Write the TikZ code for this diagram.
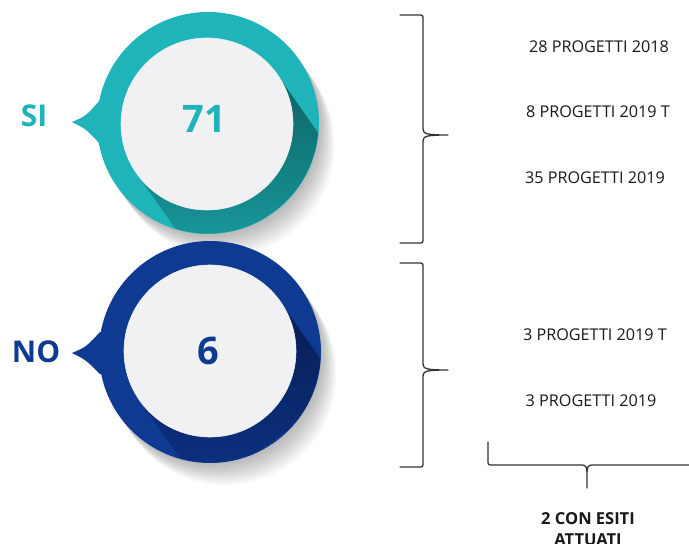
\documentclass[tikz,border=0pt]{standalone}
\usepackage{fontspec}
\setmainfont{Open Sans}
\usetikzlibrary{calc}
\definecolor{tealc}{HTML}{1EB4B9}
\definecolor{tealdark}{HTML}{0D6365}
\definecolor{tealmid}{HTML}{1A9EA2}
\definecolor{bluec}{HTML}{0E3A92}
\definecolor{bluedark}{HTML}{071D52}
\definecolor{bluemid}{HTML}{0D3386}
\definecolor{innerc}{HTML}{F1F1F3}
\definecolor{brk}{HTML}{333333}
\begin{document}
\begin{tikzpicture}[x=1pt,y=-1pt,
  outerc/.style={circle, inner sep=0pt, minimum size=222pt},
  innerb/.style={circle, inner sep=0pt, minimum size=172pt, fill=innerc, draw=black!6, line width=0.6pt},
  brace/.style={draw=brk, line width=1.3pt, line cap=round, line join=round},
  item/.style={font=\fontsize{16.2}{18}\selectfont, text=black!90, inner sep=0pt},
  bignum/.style={font=\bfseries\fontsize{38}{38}\selectfont, inner sep=0pt},
  answer/.style={font=\bfseries\fontsize{30}{30}\selectfont, inner sep=0pt}]
\useasboundingbox (0,0) rectangle (689,544);
\fill[white] (0,0) rectangle (689,544);

% ---------- SI badge ----------
\foreach \k in {1,...,12} \fill[black, opacity=0.022] (208+1.3*\k,123+1.85*\k) circle[radius=111pt];
\node[outerc, fill=tealc] (siout) at (208,123) {};
\fill[tealc] (72,122) .. controls (86,116) .. (100,100) -- (118,100) -- (118,146) -- (100,144) .. controls (86,129) .. (72,122) -- cycle;
\begin{scope}
  \clip (208,123) circle[radius=110.5pt];
  \shade[shading angle=35, top color=tealdark, bottom color=tealmid]
    (277.4,74.7) -- ++(63,90) -- ($(136.6,173.3)+(63,90)$) -- (136.6,173.3) -- cycle;
\end{scope}
\node[innerb] (siin) at (207,124) {};
\node[bignum, text=tealc] (n71) at (204,119) {71};
\node[answer, text=tealc] (si) at (34,116) {SI};

% ---------- NO badge ----------
\foreach \k in {1,...,12} \fill[black, opacity=0.022] (210+1.3*\k,352+1.85*\k) circle[radius=111pt];
\node[outerc, fill=bluec] (noout) at (210,352) {};
\fill[bluec] (72,353) .. controls (86,347) .. (100,332) -- (118,332) -- (118,376) -- (100,374) .. controls (86,360) .. (72,353) -- cycle;
\begin{scope}
  \clip (210,352) circle[radius=110.5pt];
  \shade[shading angle=35, top color=bluedark, bottom color=bluemid]
    (280.4,301.7) -- ++(63,90) -- ($(139.6,400.3)+(63,90)$) -- (139.6,400.3) -- cycle;
\end{scope}
\node[innerb] (noin) at (210,351) {};
\node[bignum, text=bluec] (n6) at (208,351) {6};
\node[answer, text=bluec] (no) at (36,352) {NO};

% ---------- brackets ----------
\draw[brace] (400,15) -- (418,15) .. controls (423,15) .. (423,20) -- (423,129)
  .. controls (423,134) and (427,135) .. (448,135)
  .. controls (427,135) and (423,136) .. (423,141) -- (423,238)
  .. controls (423,243) .. (418,243) -- (400,243);
\draw[brace] (400,263) -- (418,263) .. controls (423,263) .. (423,268) -- (423,364)
  .. controls (423,369) and (427,370) .. (448,370)
  .. controls (427,370) and (423,371) .. (423,376) -- (423,462)
  .. controls (423,467) .. (418,467) -- (400,467);
\draw[brace] (488,442) -- (488,460) .. controls (488,465) .. (493,465) -- (582,465)
  .. controls (586,465) and (587,468) .. (587,472) -- (587,488);
\draw[brace] (587,472) .. controls (587,468) and (588,465) .. (592,465) -- (689,465);

% ---------- texts ----------
\node[item] (t1) at (599,47) {28 PROGETTI 2018};
\node[item] (t2) at (598,112) {8 PROGETTI 2019 T};
\node[item] (t3) at (595,178) {35 PROGETTI 2019};
\node[item] (t4) at (595,335) {3 PROGETTI 2019 T};
\node[item] (t5) at (591,401) {3 PROGETTI 2019};
\node[font=\bfseries\fontsize{16.5}{21}\selectfont, align=center, anchor=north, inner sep=0pt, text=black!90] (res) at (588,512) {2 CON ESITI\\ATTUATI};
\end{tikzpicture}
\end{document}
